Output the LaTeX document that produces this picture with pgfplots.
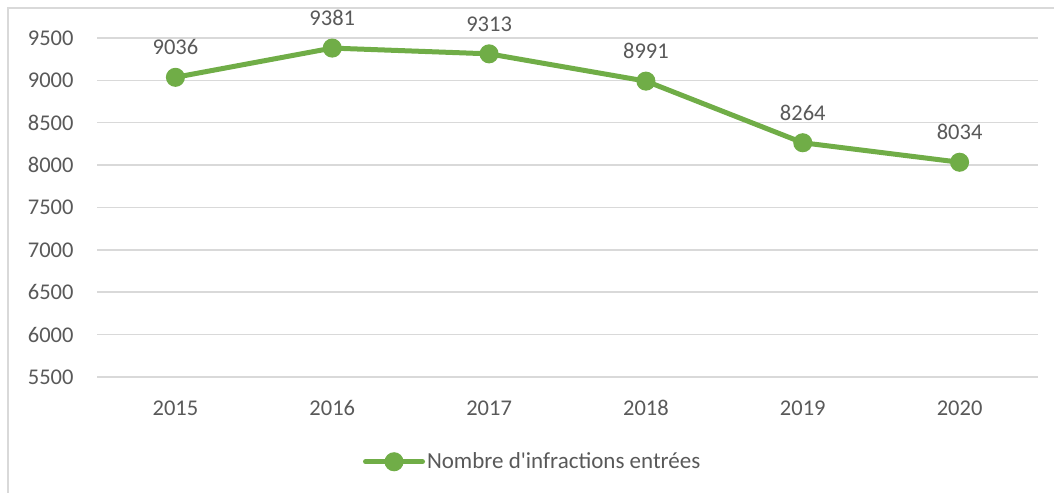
\documentclass[border=0pt]{standalone}
\usepackage{fontspec}
\setmainfont{Carlito}
\usepackage{pgfplots}
\pgfplotsset{compat=1.18}
\definecolor{exgreen}{HTML}{70AD47}
\definecolor{txt}{HTML}{595959}
\definecolor{grd}{HTML}{D9D9D9}
\begin{document}
\fontsize{22bp}{26bp}\selectfont
\begin{tikzpicture}
\useasboundingbox (0,0) rectangle (1054bp,493bp);
\draw[grd, line width=1.2bp] (8bp,0) -- (8bp,485bp) -- (1054bp,485bp);
\begin{axis}[
  at={(97bp,116bp)}, anchor=south west,
  scale only axis, width=941bp, height=339bp,
  xmin=-0.5, xmax=5.5, ymin=5500, ymax=9500,
  xtick={0,1,2,3,4,5},
  xticklabels={2015,2016,2017,2018,2019,2020},
  ytick={5500,6000,...,9500},
  ymajorgrids, grid style={grd, line width=1.5bp},
  axis line style={draw=none},
  major tick length=0pt,
  clip=false,
  tick label style={text=txt, font=\fontsize{22.5bp}{26bp}\selectfont},
  /pgf/number format/assume math mode=true,
  yticklabel style={/pgf/number format/1000 sep={}, xshift=-16bp},
  xticklabel style={yshift=-16bp},
  legend style={at={(0.463,-0.25)}, anchor=center, draw=none, fill=none,
    font=\fontsize{23bp}{26bp}\selectfont, text=txt,
    legend cell align=left, inner sep=0pt},
  legend image code/.code={
    \draw[exgreen, line width=5bp, line cap=round] (0bp,0bp) -- (57bp,0bp);
    \fill[exgreen] (28.5bp,0bp) circle (7bp);
  },
  nodes near coords,
  every node near coord/.append style={text=txt, anchor=south, inner sep=0pt, yshift=20bp,
    font=\fontsize{22.5bp}{26bp}\selectfont},
  point meta=explicit symbolic,
]
\addplot[exgreen, line width=5bp, mark=*, mark size=7bp, mark options={fill=exgreen, draw=none}]
  coordinates {(0,9036)[9036] (1,9381)[9381] (2,9313)[9313] (3,8991)[8991] (4,8264)[8264] (5,8034)[8034]};
\addlegendentry{Nombre d\textquotesingle infractions entrées}
\end{axis}
\end{tikzpicture}
\end{document}
